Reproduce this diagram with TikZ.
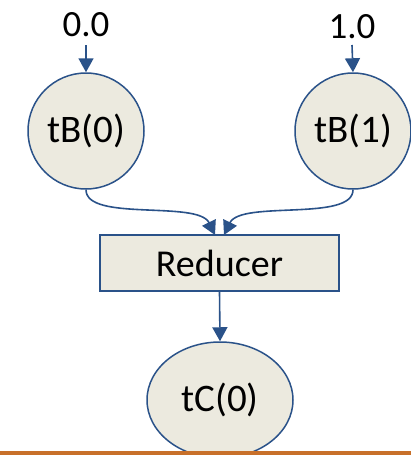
\documentclass[tikz,border=0pt]{standalone}
\usepackage{fontspec}
\setmainfont{Carlito}
\usetikzlibrary{arrows.meta,shapes.geometric}
\definecolor{nodefill}{HTML}{ECEADF}
\definecolor{edgeblue}{HTML}{2A5289}
\definecolor{rule}{HTML}{C8702A}
\begin{document}
\begin{tikzpicture}[x=1pt,y=-1pt,
  lbl/.style={font=\fontsize{37}{40}\selectfont, inner sep=0pt},
  circ/.style={circle, draw=edgeblue, line width=1.5pt, fill=nodefill, minimum size=116pt, inner sep=0pt, font=\fontsize{39}{42}\selectfont},
  oval/.style={ellipse, draw=edgeblue, line width=1.5pt, fill=nodefill, minimum width=146pt, minimum height=116pt, inner sep=0pt, font=\fontsize{39}{42}\selectfont},
  boxn/.style={rectangle, draw=edgeblue, line width=1.5pt, fill=nodefill, minimum width=239pt, minimum height=56pt, inner sep=0pt, font=\fontsize{38}{42}\selectfont},
  conn/.style={draw=edgeblue, line width=1.6pt, -{Triangle[length=14pt,width=15pt]}}
]
\useasboundingbox (0,0) rectangle (411,455);
\clip (0,0) rectangle (411,455);
\node[lbl] (l0) at (86,25) {0.0};
\node[lbl] (l1) at (352,27) {1.0};
\node[circ] (b0) at (86,131) {tB(0)};
\node[circ] (b1) at (353,131) {tB(1)};
\node[boxn] (red) at (219.5,263) {Reducer};
\node[oval] (c0) at (220,400) {tC(0)};
\coordinate (s0) at (86,45);
\coordinate (s1) at (352,45);
\draw[conn] (s0) -- (b0.north);
\draw[conn] (s1) -- (b1.north);
\coordinate (t0) at (215,235);
\coordinate (t1) at (224,235);
\draw[conn] (b0.south) .. controls (86,222) and (198,200) .. (t0);
\draw[conn] (b1.south) .. controls (353,222) and (241,200) .. (t1);
\draw[conn] (red.south) -- (c0.north);
\coordinate (ra) at (0,453);
\coordinate (rb) at (411,453);
\draw[rule, line width=3.5pt] (ra) -- (rb);
\end{tikzpicture}
\end{document}
